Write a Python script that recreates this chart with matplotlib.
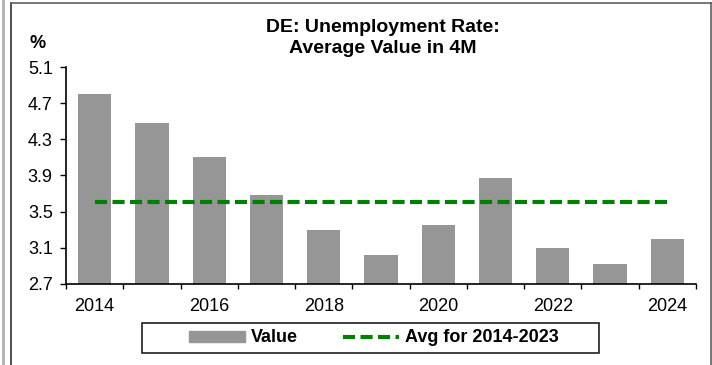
import matplotlib
matplotlib.use("Agg")
import matplotlib.pyplot as plt
from matplotlib.lines import Line2D
from matplotlib.patches import Patch, Rectangle
import numpy as np

plt.rcParams['font.family'] = ['Liberation Sans', 'DejaVu Sans']

# data
years = [2014, 2015, 2016, 2017, 2018, 2019, 2020, 2021, 2022, 2023, 2024]
values = [4.80, 4.48, 4.10, 3.68, 3.30, 3.02, 3.35, 3.87, 3.10, 2.92, 3.20]
avg_value = 3.61
yticks = [2.7, 3.1, 3.5, 3.9, 4.3, 4.7, 5.1]

W, H = 712, 365
fig = plt.figure(figsize=(W / 100, H / 100), dpi=100)
ax = fig.add_axes([66 / W, 1 - 284 / H, (696 - 66) / W, (284 - 67) / H])

bar_col = '#969696'
avg_col = '#008000'
dash = (2.9, 1.3)

x = np.arange(len(years))
ax.bar(x, values, width=0.58, color=bar_col)
ax.plot(x, [avg_value] * len(x), color=avg_col, lw=3, dashes=dash)

ax.set_ylim(2.7, 5.1)
ax.set_xlim(-0.5, len(years) - 0.5)
ax.set_yticks(yticks)
ax.set_yticklabels([f"{t:.1f}" for t in yticks], fontsize=13)
ax.tick_params(axis='y', direction='out', length=4.5, width=1, pad=5)

# year labels every other bar, tick marks on category boundaries
ax.set_xticks(x[::2])
ax.set_xticklabels([str(y) for y in years[::2]], fontsize=13)
ax.tick_params(axis='x', which='major', length=0, pad=10)
ax.set_xticks(np.arange(-0.5, len(years)), minor=True)
ax.tick_params(axis='x', which='minor', direction='out', length=3.6, width=1)

for s in ['top', 'right']:
    ax.spines[s].set_visible(False)
for s in ['left', 'bottom']:
    ax.spines[s].set_linewidth(1.2)

fig.text(383 / W, 1 - 38 / H, "DE: Unemployment Rate:\nAverage Value in 4M",
         ha='center', va='center', fontsize=14, fontweight='bold', linespacing=1.3)
fig.text(38 / W, 1 - 44 / H, "%", ha='center', va='center', fontsize=13, fontweight='bold')

# legend: entries without frame, box drawn separately
handles = [Patch(color=bar_col),
           Line2D([], [], color=avg_col, lw=3, dashes=dash)]
leg = fig.legend(handles, ["Value", "Avg for 2014-2023"], loc='center',
                 bbox_to_anchor=(374 / W, 1 - 338 / H), ncol=2, frameon=False,
                 handlelength=3.1, handleheight=0.55, handletextpad=0.35,
                 columnspacing=2.5, prop={'weight': 'bold', 'size': 13})
fig.add_artist(Rectangle((142 / W, 1 - 353 / H), (599 - 142) / W, 30 / H,
                         transform=fig.transFigure, fill=False,
                         edgecolor='#202020', lw=1.2))

# outer frame of the chart
fig.add_artist(Line2D([3 / W, 3 / W], [0, 1], color='#b0b0b0', lw=2))
fig.add_artist(Line2D([11 / W, 11 / W], [0, 1 - 3 / H], color='#303030', lw=1.2))
fig.add_artist(Line2D([11 / W, 711 / W], [1 - 3 / H, 1 - 3 / H], color='#606060', lw=1.2))
fig.add_artist(Line2D([710.5 / W, 710.5 / W], [0, 1 - 3 / H], color='#606060', lw=1.2))

fig.savefig("out.png", dpi=100)
